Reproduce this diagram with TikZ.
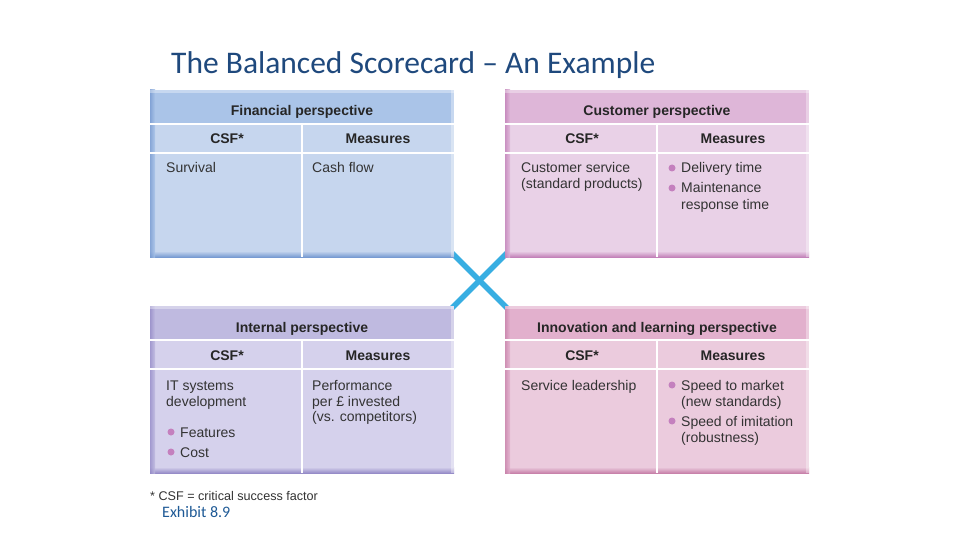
\documentclass[tikz,border=0pt]{standalone}
\usepackage{fontspec}
\setmainfont{Liberation Sans}
\newfontfamily\titlefont{Carlito}
\definecolor{titleblue}{RGB}{31,73,125}
\definecolor{exblue}{RGB}{31,90,150}
\definecolor{crossblue}{RGB}{56,174,226}
\definecolor{bulletcol}{RGB}{196,128,190}
\definecolor{finhead}{RGB}{170,196,232}
\definecolor{finbody}{RGB}{198,214,238}
\definecolor{finedge}{RGB}{120,155,210}
\definecolor{cushead}{RGB}{222,182,216}
\definecolor{cusbody}{RGB}{233,209,231}
\definecolor{cusedge}{RGB}{195,130,185}
\definecolor{inthead}{RGB}{191,186,224}
\definecolor{intbody}{RGB}{213,209,236}
\definecolor{intedge}{RGB}{150,140,200}
\definecolor{innhead}{RGB}{226,176,205}
\definecolor{innbody}{RGB}{235,203,221}
\definecolor{innedge}{RGB}{200,130,170}
\tikzset{
  hdr/.style={font=\fontsize{14}{16}\selectfont\bfseries, text=black!85, inner sep=0pt, anchor=base},
  txt/.style={font=\fontsize{14}{16}\selectfont, text=black!80, anchor=base west, inner sep=0pt},
  bul/.style={circle, fill=bulletcol, inner sep=0pt, minimum size=7pt},
  sepline/.style={white, line width=2pt},
}
\newcommand\panel[7]{%
  \begin{scope}[shift={(#1,#2)}]
    \fill[#4] (0,0) rectangle (304,167);
    \fill[#3] (0,0) rectangle (304,34);
    \shade[top color=#4, bottom color=#5] (0,161) rectangle (304,167);
    \shade[left color=#5, right color=#3, opacity=0.8] (0,0) rectangle (5,167);
    \fill[white, opacity=0.35] (0,0) rectangle (304,3);
    \fill[white, opacity=0.35] (301,0) rectangle (304,167);
    \draw[sepline] (0,34) -- (304,34);
    \draw[sepline] (0,63) -- (304,63);
    \draw[sepline] (152,34) -- (152,167);
    \node[hdr] (#7-title) at (152,26) {#6};
    \node[hdr] (#7-csf) at (77,54) {CSF*};
    \node[hdr] (#7-meas) at (228,54) {Measures};
  \end{scope}}
\begin{document}
\begin{tikzpicture}[x=1pt,y=-1pt]
\useasboundingbox[fill=white] (0,0) rectangle (960,540);
\node[font=\titlefont\fontsize{31.5}{34}\selectfont, text=titleblue, anchor=base west, inner sep=0pt] (title) at (171,74) {The Balanced Scorecard – An Example};
% cross
\coordinate (c1) at (452,253);
\coordinate (c2) at (507,308);
\coordinate (c3) at (507,253);
\coordinate (c4) at (452,308);
\draw[crossblue, line width=5.5pt] (c1) -- (c2);
\draw[crossblue, line width=5.5pt] (c3) -- (c4);
\panel{150}{90}{finhead}{finbody}{finedge}{Financial perspective}{fin}
\panel{505}{90}{cushead}{cusbody}{cusedge}{Customer perspective}{cus}
\panel{150}{306}{inthead}{intbody}{intedge}{Internal perspective}{int}
\panel{505}{306}{innhead}{innbody}{innedge}{Innovation and learning perspective}{inn}
% Financial body
\node[txt] (f1) at (166,173) {Survival};
\node[txt] (f2) at (312,173) {Cash flow};
% Customer body
\node[txt] (cu1) at (521,173) {Customer service};
\node[txt] (cu2) at (521,189) {(standard products)};
\node[bul] (cb1) at (672,168) {};
\node[txt] (cu3) at (681,173) {Delivery time};
\node[bul] (cb2) at (672,188) {};
\node[txt] (cu4) at (681,193) {Maintenance};
\node[txt] (cu5) at (681,209) {response time};
% Internal body
\node[txt] (i1) at (166,390) {IT systems};
\node[txt] (i2) at (166,406) {development};
\node[bul] (ib1) at (171,432) {};
\node[txt] (i3) at (180,437) {Features};
\node[bul] (ib2) at (171,452) {};
\node[txt] (i4) at (180,457) {Cost};
\node[txt] (i5) at (312,390) {Performance};
\node[txt] (i6) at (312,406) {per £ invested};
\node[txt] (i7) at (312,421) {(vs. competitors)};
% Innovation body
\node[txt] (n1) at (521,390) {Service leadership};
\node[bul] (nb1) at (672,385) {};
\node[txt] (n2) at (681,390) {Speed to market};
\node[txt] (n3) at (681,406) {(new standards)};
\node[bul] (nb2) at (672,421) {};
\node[txt] (n4) at (681,426) {Speed of imitation};
\node[txt] (n5) at (681,442) {(robustness)};
% footnote
\node[txt, font=\fontsize{12.6}{14}\selectfont] (foot) at (150,500) {* CSF = critical success factor};
\node[font=\titlefont\fontsize{16}{18}\selectfont, text=exblue, anchor=base west, inner sep=0pt] (exh) at (162,517) {Exhibit 8.9};
\end{tikzpicture}
\end{document}
